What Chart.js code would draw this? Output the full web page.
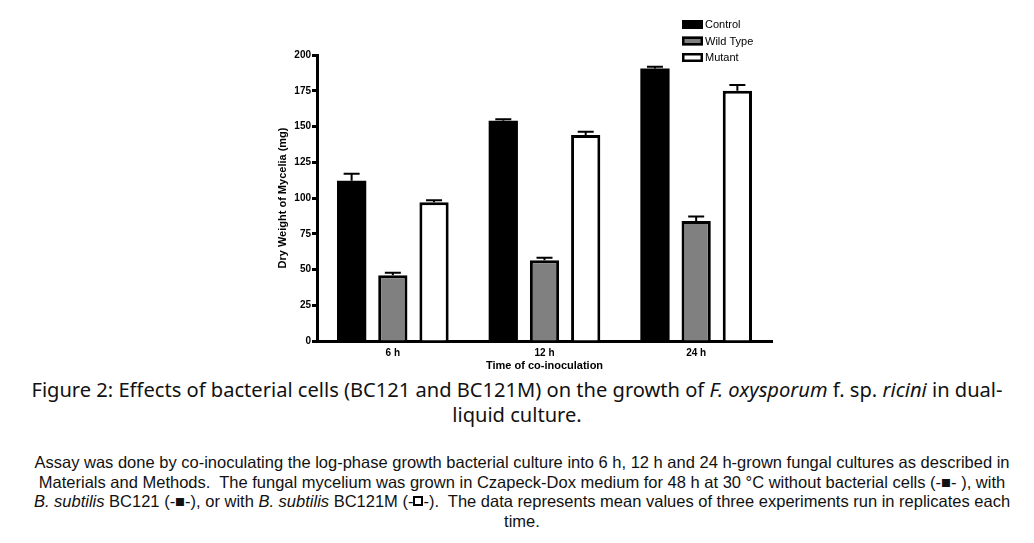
<!DOCTYPE html>
<html>
<head>
<meta charset="utf-8">
<script src="https://cdn.jsdelivr.net/npm/chart.js@4.4.1/dist/chart.umd.min.js"></script>
<style>
    body { margin: 0; background: #fff; width: 1034px; height: 543px; overflow: hidden; position: relative; }
    #chartBox { position: absolute; left: 0; top: 0; width: 1034px; height: 373px; }
    #figTitle { position: absolute; left: 0; top: 377px; width: 1034px; text-align: center;
        font-family: "Noto Sans", "Liberation Sans", sans-serif; font-size: 20.1px; line-height: 25px; color: #111; }
    #figText { position: absolute; left: 0; top: 453px; width: 1044px; text-align: center;
        font-family: "Liberation Sans", Arial, sans-serif; font-size: 16.5px; line-height: 19.5px; color: #111; }
    .openSq { display: inline-block; width: 6px; height: 6px; border: 2px solid #000; vertical-align: 1px; }
</style>
</head>
<body>
<div id="chartBox"><canvas id="dryWeightChart"></canvas></div>
<div id="figTitle">Figure 2: Effects of bacterial cells (BC121 and BC121M) on the growth of <i>F. oxysporum</i> f. sp. <i>ricini</i> in dual-<br>liquid culture.</div>
<div id="figText">Assay was done by co-inoculating the log-phase growth bacterial culture into 6 h, 12 h and 24 h-grown fungal cultures as described in<br>Materials and Methods.&nbsp; The fungal mycelium was grown in Czapeck-Dox medium for 48 h at 30 °C without bacterial cells (-■- ), with<br><i>B. subtilis</i> BC121 (-■-), or with <i>B. subtilis</i> BC121M (-<span class="openSq"></span>-).&nbsp; The data represents mean values of three experiments run in replicates each<br>time.</div>
<script>
var CATEGORIES = ['6 h', '12 h', '24 h'];
var SERIES_NAMES = ['Control', 'Wild Type', 'Mutant'];
var CONTROL_DATA = [112, 154, 190.5];
var WILD_TYPE_DATA = [46, 56.5, 84];
var MUTANT_DATA = [97, 144, 175];
var CONTROL_ERR = [5, 1, 1.2];
var WILD_TYPE_ERR = [1.7, 1.7, 3];
var MUTANT_ERR = [1.5, 2.3, 4];
var Y_TICKS = [0, 25, 50, 75, 100, 125, 150, 175, 200];

var ERRORS = [CONTROL_ERR, WILD_TYPE_ERR, MUTANT_ERR];

// upward error bars with a cap
var errorBars = {
    id: 'errorBars',
    afterDatasetsDraw: function(chart) {
        var ctx = chart.ctx;
        var yScale = chart.scales.y;
        ctx.save();
        ctx.strokeStyle = '#000';
        ctx.lineWidth = 2;
        chart.data.datasets.forEach(function(ds, i) {
            var meta = chart.getDatasetMeta(i);
            meta.data.forEach(function(bar, j) {
                var top = yScale.getPixelForValue(ds.data[j] + ERRORS[i][j]);
                ctx.beginPath();
                ctx.moveTo(bar.x, bar.y);
                ctx.lineTo(bar.x, top);
                ctx.moveTo(bar.x - 8, top);
                ctx.lineTo(bar.x + 8, top);
                ctx.stroke();
            });
        });
        ctx.restore();
    }
};

// legend box in the top right corner, above the plot
var cornerLegend = {
    id: 'cornerLegend',
    afterDraw: function(chart) {
        var ctx = chart.ctx;
        var x = chart.chartArea.right - 90;
        var y0 = 20;
        ctx.save();
        ctx.font = '11px "Liberation Sans", Arial, sans-serif';
        ctx.textBaseline = 'middle';
        chart.data.datasets.forEach(function(ds, i) {
            var y = y0 + i * 16.5;
            ctx.fillStyle = ds.backgroundColor;
            ctx.fillRect(x, y, 21, 9);
            if (ds.borderWidth) {
                ctx.strokeStyle = '#000';
                ctx.lineWidth = 2.5;
                ctx.strokeRect(x + 1.25, y + 1.25, 18.5, 6.5);
            }
            ctx.fillStyle = '#000';
            ctx.fillText(ds.label, x + 23, y + 5);
        });
        ctx.restore();
    }
};

var barCommon = { categoryPercentage: 0.815, barPercentage: 0.71 };

var dryWeightChart = new Chart(document.getElementById('dryWeightChart'), {
    type: 'bar',
    data: {
        labels: CATEGORIES,
        datasets: [
            Object.assign({ label: SERIES_NAMES[0], data: CONTROL_DATA, backgroundColor: '#000', borderWidth: 0 }, barCommon),
            Object.assign({ label: SERIES_NAMES[1], data: WILD_TYPE_DATA, backgroundColor: '#808080', borderColor: '#000', borderWidth: 3 }, barCommon),
            Object.assign({ label: SERIES_NAMES[2], data: MUTANT_DATA, backgroundColor: '#fff', borderColor: '#000', borderWidth: 3 }, barCommon)
        ]
    },
    options: {
        responsive: true,
        maintainAspectRatio: false,
        animation: false,
        layout: { padding: { left: 260, right: 262, top: 55, bottom: 0 } },
        plugins: {
            legend: { display: false },
            tooltip: { enabled: false }
        },
        scales: {
            x: {
                grid: { display: false, drawTicks: false },
                border: { display: true, color: '#000', width: 3 },
                ticks: { color: '#000', padding: 6, font: { family: '"Liberation Sans", Arial', size: 10, weight: 'bold' } },
                title: { display: true, text: 'Time of co-inoculation', color: '#000', padding: 0,
                         font: { family: '"Liberation Sans", Arial', size: 11, weight: 'bold' } },
                afterFit: function(scale) { scale.height = 32; }
            },
            y: {
                min: 0,
                max: 200,
                afterBuildTicks: function(scale) {
                    scale.ticks = Y_TICKS.map(function(v) { return { value: v }; });
                },
                grid: { display: true, drawOnChartArea: false, drawTicks: true, tickLength: 5, tickColor: '#000', tickWidth: 3 },
                border: { display: true, color: '#000', width: 3 },
                ticks: { color: '#000', padding: 1, font: { family: '"Liberation Sans", Arial', size: 10, weight: 'bold' } },
                title: { display: true, text: 'Dry Weight of Mycelia (mg)', color: '#000', padding: { top: 16, bottom: 0 },
                         font: { family: '"Liberation Sans", Arial', size: 11, weight: 'bold' } },
                afterFit: function(scale) { scale.width = 57; }
            }
        }
    },
    plugins: [errorBars, cornerLegend]
});
</script>
</body>
</html>
